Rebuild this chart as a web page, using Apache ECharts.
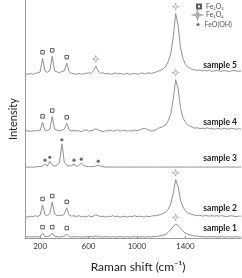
<!DOCTYPE html>
<html><head><meta charset="utf-8">
<script src="https://cdn.jsdelivr.net/npm/echarts@6/dist/echarts.min.js"></script>
<style>html,body{margin:0;padding:0;background:#fff}#c{width:242px;height:278px}</style>
</head><body><div id="c"></div>
<script>
// Raman shift grid (cm-1)
const wavenumbers = [80,100,120,140,160,180,200,220,240,260,
 280,300,320,340,360,380,400,420,440,460,
 480,500,520,540,560,580,600,620,640,660,
 680,700,720,740,760,780,800,820,840,860,
 880,900,920,940,960,980,1000,1020,1040,1060,
 1080,1100,1120,1140,1160,1180,1200,1220,1240,1260,
 1280,1300,1320,1340,1360,1380,1400,1420,1440,1460,
 1480,1500,1520,1540,1560,1580,1600,1620,1640,1660,
 1680,1700,1720,1740,1760,1780,1800,1820,1840,1860];

// intensities relative to each spectrum's own baseline (arbitrary units)
const sample1 = [0,0.5,0,0,0.5,0,0.5,4,0.5,0.5,
 1,4,0.5,0.5,0,0.5,1,3,0.5,0,
 0.5,0,0.5,0,0,0.5,0,0.5,0,1,
 0.5,0,0,0.5,0,0,0.5,0,0,0.5,
 0,0,0.5,0,0,0.5,0,0,0.5,0,
 0,0.5,0,0.5,0.5,1,1.5,2,3,5,
 8,11,13,12,9,6,4,3,2,1.5,
 1,1,0.5,0.5,0.5,0,0.5,0,0.5,0,
 0,0.5,0,0,0.5,0,0,0.5,0,0];
const sample2 = [0,-0.5,0.5,0,1,0,1.5,12,2,1,
 3,15,3,1,1.5,1,2.5,9,1.5,0.5,
 1,0,1,0,0.5,-0.5,1,0,0.5,2,
 1,0,0.5,-0.5,0.5,0,1,0,0.5,-0.5,
 0,0.5,-0.5,0.5,0,1,0,0.5,0,-0.5,
 0.5,0,0.5,1,1,1.5,2.5,3.5,5,8,
 13,24,38,31,17,10,6,4,3,2,
 1.5,1,1.5,0.5,1,1,0.5,1,0.5,1,
 0.5,1,0.5,0,0.5,1,0.5,0,0.5,0.5];
const sample3 = [0,0,0,0,0,0.5,0.5,1,3,1,
 6,2,1,2,5,24,5,2,1,1.5,
 3,1,1.5,4,2,0.5,0.5,0.5,0.5,1,
 2,1,0.5,0,0,0,0,0,0,0,
 0,0,0,0,0,0,0,0,0,0,
 0,0,0,0,0,0,0,0,0,0,
 0,0,0,0,0,0,0,0,0,0,
 0,0,0,0,0,0,0,0,0,0,
 0,0,0,0,0,0,0,0,0,0];
const sample4 = [0,0.5,-0.5,0.5,0,1,0.5,9,1,0.5,
 2,15,2,1,0.5,1,2,8,1.5,0,
 1,0,0.5,-0.5,0.5,1.5,0,0.5,1,2.5,
 1,0.5,-0.5,0.5,0,1,0,0.5,1.5,0,
 0.5,1,0,0.5,0,1,0.5,1,2,3,
 2,1,0,0.5,1.5,3,4,5,7,11,
 18,33,53,44,24,14,9,6.5,5,4,
 3,3.5,2.5,3,2.5,3.5,2.5,3,2,3,
 2.5,2,3,2.5,2,3,2.5,2,2.5,2];
const sample5 = [0,-0.5,0.5,-0.5,0.5,1,2,16,3,1.5,
 3,18,3,2,1,2.5,3,11,2,0.5,
 0,-0.5,0.5,-0.5,0,0.5,1,0.5,3,8,
 3,0.5,1,0,0.5,-0.5,0,1,0,0.5,
 -0.5,0,0.5,-0.5,0,0.5,-0.5,0,1,0,
 0.5,1,0.5,1,2,3,4,5.5,8,13,
 21,38,62,50,27,16,10,7,5.5,4.5,
 4,3.5,4,3,3.5,3,3.5,2.5,3,3.5,
 3,2.5,3.5,3,2.5,3,3.5,3,2.5,3];
const spectra = [sample1, sample2, sample3, sample4, sample5];
const sampleNames = ['sample 1','sample 2','sample 3','sample 4','sample 5'];
const offsets = [1, 22, 73, 110, 169];

// assigned peaks (cm-1) per sample
const fe2o3Peaks = [[220,300,420],[220,300,420],[],[220,300,420],[220,300,420]];
const fe3o4Peaks = [[1320],[1320],[],[1320],[660,1320]];
const feoohPeaks = [[],[],[240,280,380,480,540,680],[],[]];

const xTicks = [200, 600, 1000, 1400];
const legendNames = ['Fe\u2082O\u2083', 'Fe\u2083O\u2084', 'FeO(OH)'];

const starPath = 'path://M0,-10 L2.2,-2.2 L10,0 L2.2,2.2 L0,10 L-2.2,2.2 L-10,0 L-2.2,-2.2 Z';

function markerData(peaks) {
  const out = [];
  peaks.forEach((list, k) => list.forEach(w => {
    const i = wavenumbers.indexOf(w);
    out.push([w, offsets[k] + spectra[k][i]]);
  }));
  return out;
}

const series = spectra.map((vals, k) => ({
  type: 'line', name: sampleNames[k], showSymbol: false, silent: true,
  data: wavenumbers.map((w, i) => [w, offsets[k] + vals[i]]),
  lineStyle: { color: '#8f8f8f', width: 1 }, z: 2
}));
series.push({ type: 'scatter', name: legendNames[0], data: markerData(fe2o3Peaks),
  symbol: 'rect', symbolSize: 3.5, symbolOffset: [0, -6],
  itemStyle: { color: '#fff', borderColor: '#333', borderWidth: 1 }, z: 3 });
series.push({ type: 'scatter', name: legendNames[1], data: markerData(fe3o4Peaks),
  symbol: starPath, symbolSize: 7, symbolOffset: [0, -7],
  itemStyle: { color: '#fff', borderColor: '#999', borderWidth: 0.8 }, z: 3 });
series.push({ type: 'scatter', name: legendNames[2], data: markerData(feoohPeaks),
  symbol: 'circle', symbolSize: 3.2, symbolOffset: [0, -4],
  itemStyle: { color: '#444' }, z: 3 });

const chart = echarts.init(document.getElementById('c'));
const lgText = { fontSize: 7, color: '#555', fontFamily: 'Lato' };
chart.setOption({
  animation: false,
  grid: { left: 17, right: 1, top: 0, bottom: 33 },
  legend: [
    { data: [legendNames[0]], left: 196, top: 3, itemWidth: 4, itemHeight: 4, itemGap: 2, textStyle: lgText, padding: 0 },
    { data: [legendNames[1]], left: 193, top: 10.5, itemWidth: 7, itemHeight: 7, itemGap: 2, textStyle: lgText, padding: 0 },
    { data: [legendNames[2]], left: 196.5, top: 21, itemWidth: 3, itemHeight: 3, itemGap: 2, textStyle: lgText, padding: 0 }
  ],
  xAxis: {
    type: 'value', min: 75, max: 1860,
    name: 'Raman shift (cm\u207B\u00B9)', nameLocation: 'middle', nameGap: 23,
    nameTextStyle: { fontSize: 12, color: '#222', fontFamily: 'Lato', padding: [0, 0, 0, 10] },
    axisLine: { lineStyle: { color: '#999', width: 1 } },
    axisTick: { show: true, inside: true, length: 2, customValues: xTicks, lineStyle: { color: '#999' } },
    axisLabel: { customValues: xTicks, fontSize: 8, color: '#333', margin: 4, fontFamily: 'Lato',
      formatter: v => String(v) },
    splitLine: { show: false }
  },
  yAxis: {
    type: 'value', min: 0, max: 245,
    name: 'Intensity', nameLocation: 'middle', nameGap: 6, nameRotate: 90,
    nameTextStyle: { fontSize: 11, color: '#222', fontFamily: 'Lato' },
    axisLine: { show: true, lineStyle: { color: '#999', width: 1 } },
    axisTick: { show: false }, axisLabel: { show: false }, splitLine: { show: false }
  },
  series: series
});

// sample labels anchored above each spectrum's right end
const graphics = sampleNames.map((nm, k) => {
  const p = chart.convertToPixel({ gridIndex: 0 }, [1860, offsets[k]]);
  return { type: 'text', right: 5, top: p[1] - 13,
    style: { text: nm, font: 'bold 8.5px Lato', fill: '#222' } };
});
chart.setOption({ graphic: graphics });
</script>
</body></html>
